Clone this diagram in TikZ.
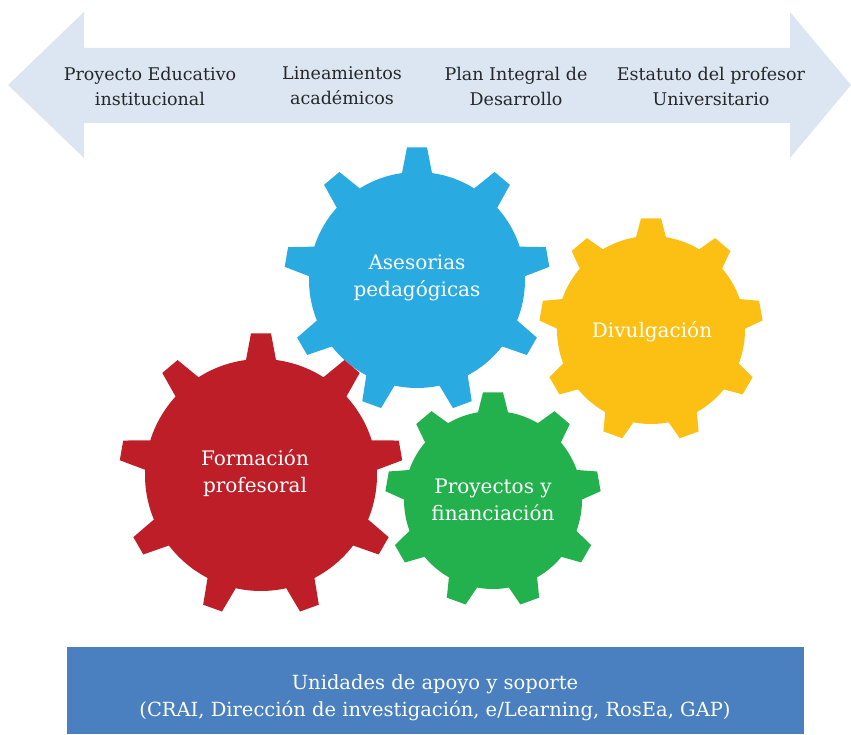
\documentclass[tikz,border=0pt]{standalone}
\usepackage{fontspec}
\setmainfont{DejaVu Serif}
\usetikzlibrary{positioning}

\definecolor{arrowfill}{HTML}{DCE6F2}
\definecolor{gearblue}{HTML}{29ABE2}
\definecolor{gearred}{HTML}{BE1E27}
\definecolor{geargreen}{HTML}{22B14C}
\definecolor{gearyellow}{HTML}{FBC013}
\definecolor{boxblue}{HTML}{4A80C0}

% gear: centre, body radius, tooth radius, colour
\newcommand{\gear}[4]{%
  \begin{scope}[shift={(#1)}]
    \pgfmathsetmacro{\ab}{asin(15/#2)}
    \pgfmathsetmacro{\at}{asin(10/#3)}
    \fill[#4] ({90-\ab}:#2)
      \foreach \k in {0,...,8}{
        -- ({90+40*\k-\ab}:#2) -- ({90+40*\k-\at}:#3)
        -- ({90+40*\k+\at}:#3) -- ({90+40*\k+\ab}:#2)
        arc[start angle={90+40*\k+\ab}, end angle={130+40*\k-\ab}, radius=#2]
      } -- cycle;
  \end{scope}}

\begin{document}
\begin{tikzpicture}[
					x=1pt, y=1pt,
					toptext/.style={align=center, font=\fontsize{17.5}{25}\selectfont, text=black!85},
					geartext/.style={align=center, font=\fontsize{20}{27}\selectfont, text=white},
					boxtext/.style={align=center, font=\fontsize{19.5}{27}\selectfont, text=white}
					]
					\useasboundingbox (0,0) rectangle (851,734);
					
					% Double arrow
					\fill[arrowfill] (8,649) -- (84,722) -- (84,686) -- (790,686) -- (790,722)
					  -- (851,649) -- (790,576) -- (790,611) -- (84,611) -- (84,576) -- cycle;
					
					% Arrow texts
					\node[toptext] (PEI) at (150,648) {Proyecto Educativo\\institucional};
					\node[toptext] (Lineam) at (342,648) {Lineamientos\\académicos};
					\node[toptext] (PID) at (516,648) {Plan Integral de\\Desarrollo};
					\node[toptext] (Estatuto) at (711,648) {Estatuto del profesor\\Universitario};
					
					% Gears
					\gear{417,454}{108}{133}{gearblue}
					\gear{651,404}{94}{112}{gearyellow}
					\gear{261,259}{116}{142}{gearred}
					\gear{493,234}{89}{108}{geargreen}
					
					% Gear labels
					\node[geartext] (Asesorias) at (417,456) {Asesorias\\pedagógicas};
					\node[geartext] (Divulgacion) at (652,402) {Divulgación};
					\node[geartext] (Formacion) at (255,261) {Formación\\profesoral};
					\node[geartext] (Proyectos) at (493,234) {Proyectos y\\financiación};
					
					% Support units
					\fill[boxblue] (67,0) rectangle (804,87);
					\node[boxtext] (Apoyo) at (435,36) {Unidades de apoyo y soporte\\(CRAI, Dirección de investigación, e/Learning, RosEa, GAP)};
				\end{tikzpicture}
\end{document}
